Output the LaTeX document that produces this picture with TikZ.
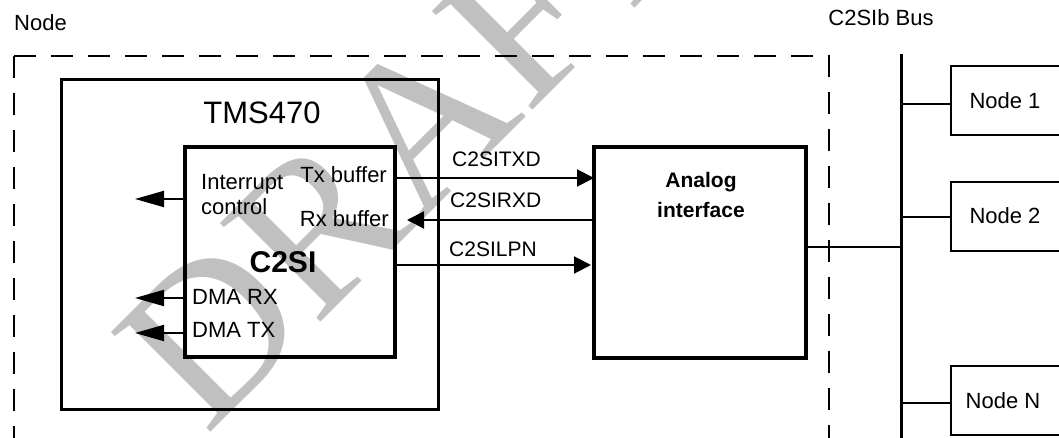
\documentclass[tikz,border=0pt]{standalone}
\usepackage{fontspec}
\setmainfont{Liberation Sans}
\newfontfamily\wmfont{Liberation Serif}
\usetikzlibrary{arrows.meta}
\definecolor{wmgray}{HTML}{C0C0C0}
\begin{document}
\begin{tikzpicture}[x=1bp,y=-1bp,
  txt/.style={inner sep=0pt,font=\fontsize{22bp}{26bp}\selectfont},
  sig/.style={inner sep=0pt,font=\fontsize{21bp}{25bp}\selectfont},
  thickbox/.style={draw,line width=4bp,inner sep=0pt,outer sep=0pt},
  midbox/.style={draw,line width=3bp,inner sep=0pt,outer sep=0pt},
  nodebox/.style={draw,line width=2.7bp,inner sep=0pt,outer sep=0pt},
  conn/.style={line width=2bp},
  busconn/.style={line width=2.5bp},
  dashline/.style={line width=2.7bp,dash pattern=on 22bp off 15bp},
  larr/.style={conn,-{Triangle[length=29bp,width=16bp]}},
  rarr/.style={conn,-{Triangle[length=17bp,width=17bp]}}
]
\useasboundingbox (0,0) rectangle (1059,438);
\clip (0,0) rectangle (1059,438);
% watermark
\node[inner sep=0pt,text=wmgray,font=\wmfont\fontsize{215bp}{215bp}\selectfont,rotate=45,anchor=base west] (wm) at (206,437) {DRAFT};
% outer dashed node boundary
\draw[dashline] (14,56) -- (14,445);
\draw[dashline] (14,56) -- (829,56) -- (829,445);
\node[txt,anchor=base west] (nodelbl) at (14,31) {Node};
\node[txt,anchor=base] (buslbl) at (881,26) {C2SIb Bus};
% TMS470
\node[midbox,minimum width=376.5bp,minimum height=329bp] (tms) at (249.75,244.5) {};
\node[inner sep=0pt,font=\fontsize{31bp}{35bp}\selectfont] (tmslbl) at (262,113) {TMS470};
% C2SI
\node[thickbox,minimum width=210bp,minimum height=209.5bp] (c2si) at (290,252.25) {};
\node[inner sep=0pt,font=\bfseries\fontsize{30bp}{34bp}\selectfont] (c2silbl) at (283,262) {C2SI};
\node[txt,anchor=base west] (intlbl1) at (201,190) {Interrupt};
\node[txt,anchor=base west] (intlbl2) at (201,215) {control};
\node[txt,anchor=base east] (txbuf) at (387,183) {Tx buffer};
\node[txt,anchor=base east] (rxbuf) at (389,227) {Rx buffer};
\node[txt,anchor=base west] (dmarx) at (192,305) {DMA RX};
\node[txt,anchor=base west] (dmatx) at (192,338) {DMA TX};
% Analog interface
\node[thickbox,minimum width=212bp,minimum height=211bp] (analog) at (700,252.5) {};
\node[inner sep=0pt,font=\bfseries\fontsize{21bp}{30bp}\selectfont,align=center,anchor=north] (anlbl) at (701,172) {Analog\\interface};
% signal coordinates
\coordinate (ytx) at (0,178);
\coordinate (yrx) at (0,220);
\coordinate (ylp) at (0,265);
\coordinate (yint) at (0,199);
\coordinate (ydrx) at (0,298);
\coordinate (ydtx) at (0,333);
\coordinate (rxtip) at (407,220);
\coordinate (lptip) at (591,265);
\coordinate (inttip) at (135,199);
\coordinate (drxtip) at (135,298);
\coordinate (dtxtip) at (135,333);
\draw[rarr] (c2si.east |- ytx) -- (analog.west |- ytx);
\draw[rarr] (analog.west |- yrx) -- (rxtip);
\draw[rarr] (c2si.east |- ylp) -- (lptip);
\node[sig,anchor=base west] (txd) at (452,167) {C2SITXD};
\node[sig,anchor=base west] (rxd) at (450,208) {C2SIRXD};
\node[sig,anchor=base west] (lpn) at (449,257) {C2SILPN};
\draw[larr] (c2si.west |- yint) -- (inttip);
\draw[larr] (c2si.west |- ydrx) -- (drxtip);
\draw[larr] (c2si.west |- ydtx) -- (dtxtip);
% bus
\coordinate (bustop) at (901,54);
\coordinate (busbot) at (901,445);
\draw[line width=3bp] (bustop) -- (busbot);
\node[nodebox,minimum width=130bp,minimum height=69bp] (n1) at (1016,100.5) {};
\node[nodebox,minimum width=130bp,minimum height=69bp] (n2) at (1016,216.5) {};
\node[nodebox,minimum width=130bp,minimum height=69bp] (nN) at (1016,400.5) {};
\node[txt] (n1lbl) at (1005,101) {Node 1};
\node[txt] (n2lbl) at (1005,216) {Node 2};
\node[txt] (nNlbl) at (1003,401) {Node N};
\draw[busconn] (analog.east |- 0,247) -- (bustop |- 0,247);
\draw[busconn] (n1.west |- 0,104) -- (bustop |- 0,104);
\draw[busconn] (n2.west |- 0,217) -- (bustop |- 0,217);
\draw[busconn] (nN.west |- 0,403) -- (bustop |- 0,403);
\end{tikzpicture}
\end{document}
